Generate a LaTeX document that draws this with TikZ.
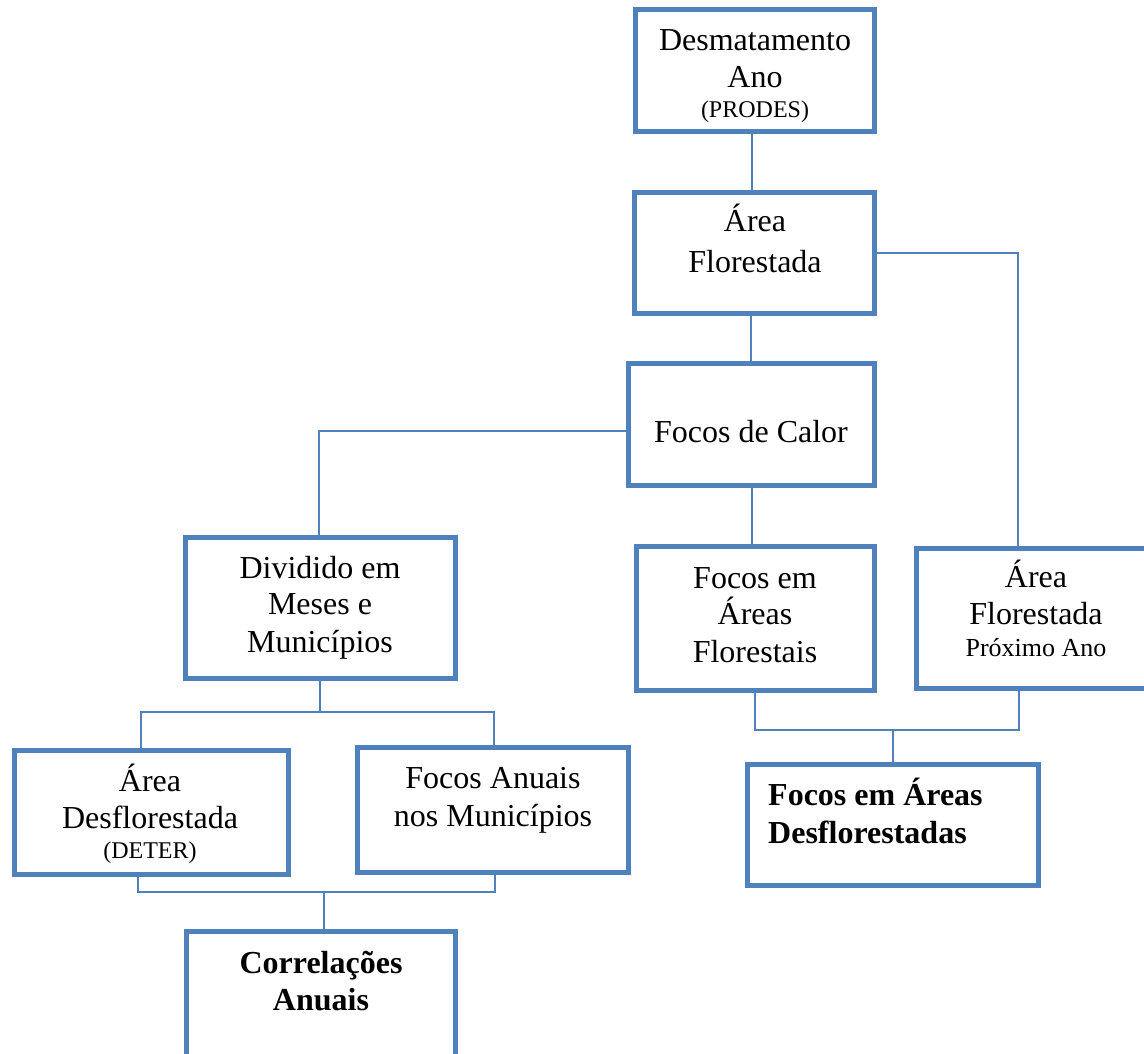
\documentclass[tikz,border=0pt]{standalone}
\usepackage{fontspec}
\setmainfont{Liberation Serif}
\definecolor{boxblue}{HTML}{4F81BD}
\tikzset{
  box/.style={draw=boxblue, line width=5pt, fill=white, inner sep=0pt},
  conn/.style={draw=boxblue, line width=2.3pt},
  txt/.style={anchor=base, inner sep=0pt, font=\fontsize{32}{37}\selectfont},
  sml/.style={anchor=base, inner sep=0pt, font=\fontsize{24}{28}\selectfont},
  prox/.style={anchor=base, inner sep=0pt, font=\fontsize{26}{30}\selectfont},
  bld/.style={inner sep=0pt, font=\fontsize{32}{37}\selectfont\bfseries},
}
\begin{document}
\begin{tikzpicture}[x=1pt,y=-1pt]
\useasboundingbox (0,0) rectangle (1144,1054);
\clip (0,0) rectangle (1144,1054);

% coordinates for connectors
\coordinate (x752) at (752,0);
\coordinate (x751) at (751,0);
\coordinate (x1018) at (1018,0);
\coordinate (k1) at (319,431);
\coordinate (j1) at (320,712);
\coordinate (ja) at (141,712);
\coordinate (jb) at (494,712);
\coordinate (ka) at (138,892);
\coordinate (kb) at (495,892);
\coordinate (kc) at (324,892);
\coordinate (ma) at (755,730);
\coordinate (mb) at (1019,730);
\coordinate (mc) at (893,730);

% boxes
\node[box, minimum width=239pt, minimum height=122pt] (b1) at (755,70.5) {};
\node[box, minimum width=240pt, minimum height=121pt] (b2) at (754.5,253) {};
\node[box, minimum width=246pt, minimum height=122pt] (b3) at (751.5,424.5) {};
\node[box, minimum width=270pt, minimum height=141pt] (b4) at (320.5,608) {};
\node[box, minimum width=238pt, minimum height=144pt] (b5) at (755.5,618.5) {};
\node[box, minimum width=241pt, minimum height=140pt] (b6) at (1037,618.5) {};
\node[box, minimum width=274pt, minimum height=124pt] (b7) at (151.5,812.5) {};
\node[box, minimum width=271pt, minimum height=125pt] (b8) at (493,810) {};
\node[box, minimum width=291pt, minimum height=121pt] (b9) at (893,825) {};
\node[box, minimum width=269pt, minimum height=126pt] (b10) at (321,994.5) {};

% connectors
\draw[conn] (b1.south -| x752) -- (b2.north -| x752);
\draw[conn] (b2.south -| x751) -- (b3.north -| x751);
\draw[conn] (b2.east) -| (b6.north -| x1018);
\draw[conn] (b3.west |- k1) -- (k1) -- (b4.north -| k1);
\draw[conn] (b3.south -| x752) -- (b5.north -| x752);
\draw[conn] (b4.south -| j1) -- (j1);
\draw[conn] (b7.north -| ja) -- (ja) -- (jb) -- (b8.north -| jb);
\draw[conn] (b7.south -| ka) -- (ka) -- (kb) -- (b8.south -| kb);
\draw[conn] (kc) -- (b10.north -| kc);
\draw[conn] (b5.south -| ma) -- (ma) -- (mb) -- (b6.south -| mb);
\draw[conn] (mc) -- (b9.north -| mc);

% texts
\node[txt] (t1a) at (755,51) {Desmatamento};
\node[txt] (t1b) at (755,88) {Ano};
\node[sml] (t1c) at (755,118) {(PRODES)};

\node[txt] (t2a) at (755,232) {Área};
\node[txt] (t2b) at (755,272) {Florestada};

\node[txt] (t3a) at (751,442) {Focos de Calor};

\node[txt] (t4a) at (320,578) {Dividido em};
\node[txt] (t4b) at (320,614) {Meses e};
\node[txt] (t4c) at (320,652) {Municípios};

\node[txt] (t5a) at (755,588) {Focos em};
\node[txt] (t5b) at (755,624) {Áreas};
\node[txt] (t5c) at (755,662) {Florestais};

\node[txt] (t6a) at (1036,587) {Área};
\node[txt] (t6b) at (1036,624) {Florestada};
\node[prox] (t6c) at (1036,656) {Próximo Ano};

\node[txt] (t7a) at (150,791) {Área};
\node[txt] (t7b) at (150,828) {Desflorestada};
\node[sml] (t7c) at (150,858) {(DETER)};

\node[txt] (t8a) at (493,788) {Focos Anuais};
\node[txt] (t8b) at (493,826) {nos Municípios};

\node[bld, anchor=base west] (t9a) at (768,805) {Focos em Áreas};
\node[bld, anchor=base west] (t9b) at (768,843) {Desflorestadas};

\node[bld, anchor=base] (t10a) at (321,973) {Correlações};
\node[bld, anchor=base] (t10b) at (321,1010) {Anuais};
\end{tikzpicture}
\end{document}
